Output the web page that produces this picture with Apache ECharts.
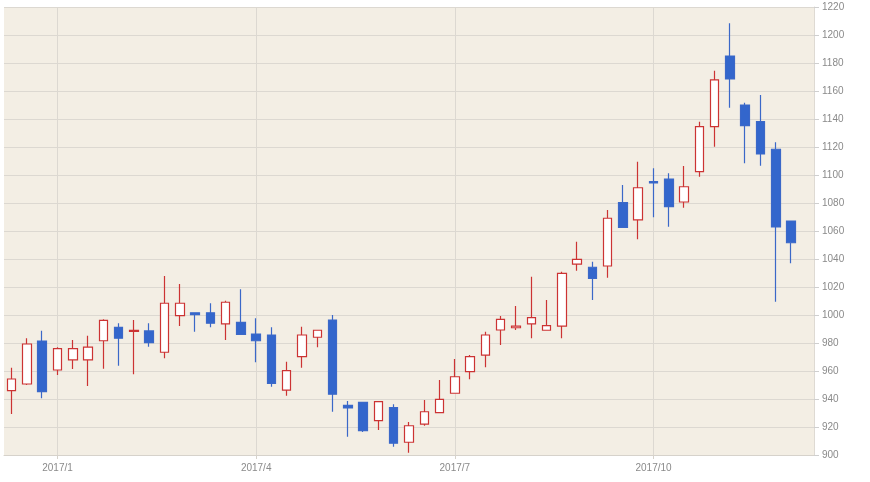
<!DOCTYPE html>
<html>
<head>
<meta charset="utf-8">
<script src="https://cdn.jsdelivr.net/npm/echarts@6/dist/echarts.min.js"></script>
<style>
html,body{margin:0;padding:0;background:#fff;}
#chart{width:870px;height:482px;}
</style>
</head>
<body>
<div id="chart"></div>
<script>
// Weekly dates (categories)
const dates = [
  '2016/12/11','2016/12/18','2016/12/25',
  '2017/1/1','2017/1/8','2017/1/15','2017/1/22','2017/1/29',
  '2017/2/5','2017/2/12','2017/2/19','2017/2/26',
  '2017/3/5','2017/3/12','2017/3/19','2017/3/26',
  '2017/4/2','2017/4/9','2017/4/16','2017/4/23','2017/4/30',
  '2017/5/7','2017/5/14','2017/5/21','2017/5/28',
  '2017/6/4','2017/6/11','2017/6/18','2017/6/25',
  '2017/7/2','2017/7/9','2017/7/16','2017/7/23','2017/7/30',
  '2017/8/6','2017/8/13','2017/8/20','2017/8/27',
  '2017/9/3','2017/9/10','2017/9/17','2017/9/24',
  '2017/10/1','2017/10/8','2017/10/15','2017/10/22','2017/10/29',
  '2017/11/5','2017/11/12','2017/11/19','2017/11/26',
  '2017/12/3'
];
const opens  = [946,950.7,981.4,960.7,967.9,968,981.6,991.2,988.3,988.6,973.4,999.5,1001.6,1001.6,993.6,994.8,986.4,985.7,946.4,970.2,984.1,996.4,935.5,937.6,924.5,933.8,909.1,922.1,930.2,944.1,959.5,971.4,989.3,990.9,993.6,989.1,992.1,1036.4,1034.1,1035,1080.2,1067.9,1095.2,1097.1,1080.7,1102.4,1134.5,1185,1150,1138.1,1118.4,1067.1];
const closes = [954.3,979.3,945.2,976,976,977.1,996.2,983.4,989,980.2,1008.4,1008.4,1000.2,994.1,1009.1,986.2,981.6,951.2,960.2,985.7,989.1,943.4,933.6,917.4,938.1,908.4,920.9,930.9,939.8,955.9,970.2,985.7,996.9,992.1,998.1,992.4,1029.8,1039.8,1026.2,1069.1,1062.6,1090.9,1094.3,1077.4,1091.6,1134.5,1167.9,1168.6,1135.2,1115,1062.9,1051.6];
const lows   = [929.3,950,940.5,957.1,961.4,949.3,961.6,963.8,957.6,977.4,969.1,992.1,988.1,991.2,982.1,986,966.2,948.8,942.4,962.4,976.9,930.9,913.1,916.4,917.9,905.9,901.6,920.9,929.8,944,954.1,962.6,978.6,989.3,983.4,989,983.4,1031.6,1010.7,1026.6,1062.5,1054.1,1069.8,1063.1,1076.6,1098.8,1120.2,1148.1,1108.4,1106.6,1009.5,1036.9];
const highs  = [962.4,983.4,988.8,977,982.1,985.2,997,994.1,996.4,994.1,1027.9,1022.1,1001.8,1008.4,1010.2,1018.4,997.6,991.2,966.6,991.6,989.5,1000,938.6,938,938.5,936.2,923.6,939.3,953.6,968.6,971.4,988.1,999.3,1006.4,1027.4,1010.7,1030.9,1052.4,1038.1,1075,1092.9,1109.5,1104.8,1101.2,1106.4,1138.1,1174.5,1208.4,1151.6,1157.1,1123.4,1067.5];

// Tick labels on the time axis
const tickDates  = ['2017/1/1','2017/4/2','2017/7/2','2017/10/1'];
const tickLabels = ['2017/1','2017/4','2017/7','2017/10'];

const ohlc = opens.map((o, i) => [o, closes[i], lows[i], highs[i]]);
const showTick = (idx, value) => tickDates.indexOf(value) >= 0;

const chart = echarts.init(document.getElementById('chart'), null, {renderer: 'canvas'});
chart.setOption({
  animation: false,
  backgroundColor: '#ffffff',
  grid: {
    left: 4, right: 56, top: 7, bottom: 27,
    show: true, backgroundColor: '#f3eee4', borderWidth: 0
  },
  xAxis: {
    type: 'category',
    data: dates,
    boundaryGap: true,
    max: dates.length,
    axisLine: {show: true, lineStyle: {color: '#d6d2cb', width: 1}},
    axisTick: {show: true, alignWithLabel: true, interval: showTick, length: 4, lineStyle: {color: '#d6d2cb'}},
    axisLabel: {
      interval: showTick,
      formatter: v => { const k = tickDates.indexOf(v); return k >= 0 ? tickLabels[k] : ''; },
      color: '#8a8a8a', fontSize: 10, fontFamily: 'Liberation Sans, Arial, sans-serif', margin: 8
    },
    splitLine: {show: true, alignWithLabel: true, interval: showTick, lineStyle: {color: '#dcd8d1', width: 1}}
  },
  yAxis: {
    type: 'value',
    position: 'right',
    min: 900, max: 1220, interval: 20,
    scale: true,
    axisLine: {show: true, lineStyle: {color: '#dedad3'}},
    axisTick: {show: true, length: 5, lineStyle: {color: '#cfcfcf'}},
    axisLabel: {
      formatter: v => String(v),
      color: '#8a8a8a', fontSize: 10, fontFamily: 'Liberation Sans, Arial, sans-serif', margin: 8
    },
    splitLine: {show: true, lineStyle: {color: '#dcd8d1', width: 1}}
  },
  series: [{
    type: 'candlestick',
    data: ohlc,
    barWidth: 9,
    itemStyle: {
      color: '#ffffff',
      color0: '#3366cc',
      borderColor: '#cc3333',
      borderColor0: '#3b68c8',
      borderWidth: 1.2
    }
  }]
});
</script>
</body>
</html>
